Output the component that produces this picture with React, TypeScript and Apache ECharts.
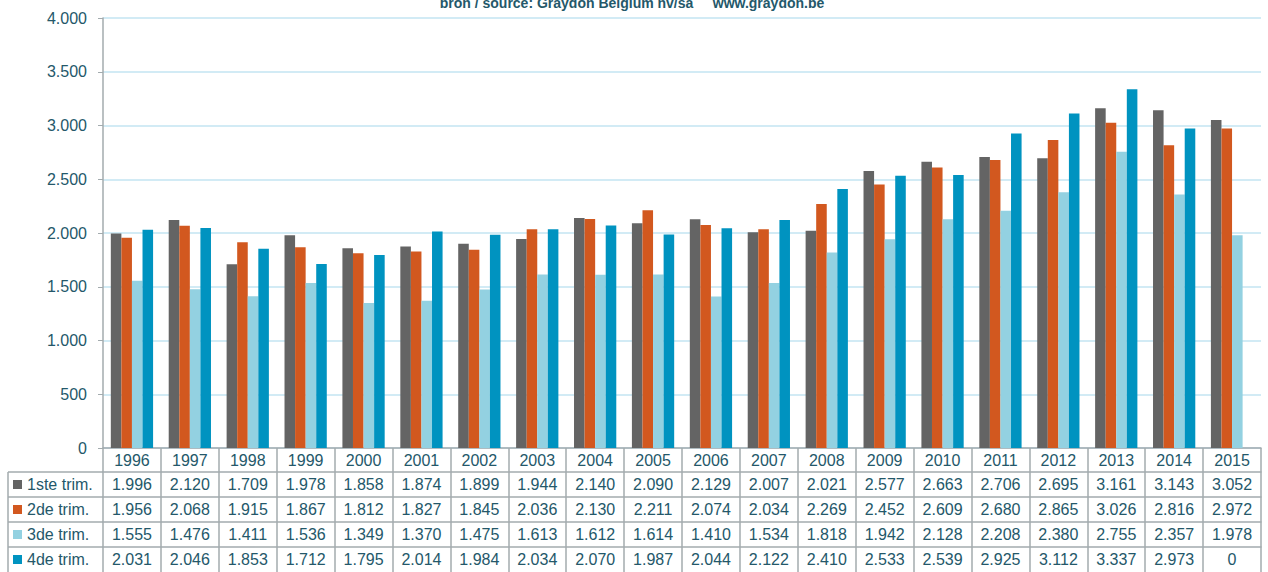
import React, { useEffect, useRef } from "react";
import * as echarts from "echarts";

const years = ["1996","1997","1998","1999","2000","2001","2002","2003","2004","2005","2006","2007","2008","2009","2010","2011","2012","2013","2014","2015"];
const seriesNames = ["1ste trim.", "2de trim.", "3de trim.", "4de trim."];
const q1 = [1996,2120,1709,1978,1858,1874,1899,1944,2140,2090,2129,2007,2021,2577,2663,2706,2695,3161,3143,3052];
const q2 = [1956,2068,1915,1867,1812,1827,1845,2036,2130,2211,2074,2034,2269,2452,2609,2680,2865,3026,2816,2972];
const q3 = [1555,1476,1411,1536,1349,1370,1475,1613,1612,1614,1410,1534,1818,1942,2128,2208,2380,2755,2357,1978];
const q4 = [2031,2046,1853,1712,1795,2014,1984,2034,2070,1987,2044,2122,2410,2533,2539,2925,3112,3337,2973,0];
const colors = ["#646464", "#d2581f", "#93d1e1", "#0093c0"];
const titleText = "bron / source: Graydon Belgium nv/sa     www.graydon.be";

const FONT = "'Liberation Sans', Arial, sans-serif";
const TEXT = "#24586a";
const BORDER = "#a3abae";

function fmt(v: number): string {
  if (v >= 1000) {
    return Math.floor(v / 1000) + "." + String(v % 1000).padStart(3, "0");
  }
  return String(v);
}

export default function App() {
  const ref = useRef<HTMLDivElement>(null);
  useEffect(() => {
    if (!ref.current) return;
    const chart = echarts.init(ref.current, undefined, { renderer: "svg" });
    const rows = [q1, q2, q3, q4];
    const rowTop = 448;
    const rowOffsets = [0, 24, 49, 74, 99];
    const tickLens = [24, 25, 25, 25, 25];

    const xAxes: any[] = rowOffsets.map((off, k) => ({
      type: "category",
      data: years,
      gridIndex: 0,
      position: "bottom",
      offset: off,
      axisLine: { show: true, lineStyle: { color: BORDER, width: 1.5 } },
      axisTick: { show: true, interval: 0, length: tickLens[k], alignWithLabel: false, lineStyle: { color: BORDER, width: 1.5 } },
      axisLabel: {
        interval: 0,
        margin: 4.5,
        fontSize: 16,
        fontFamily: FONT,
        color: TEXT,
        formatter: k === 0 ? undefined : (_v: string, i: number) => fmt(rows[k - 1][i]),
      },
      splitLine: { show: false },
    }));

    const legends = seriesNames.map((name, k) => ({
      data: [name],
      left: 13,
      top: rowTop + rowOffsets[k + 1] + 4.5,
      padding: 0,
      icon: "rect",
      itemWidth: 9,
      itemHeight: 9,
      selectedMode: false,
      textStyle: { fontSize: 16, fontFamily: FONT, color: TEXT },
    }));

    const frame: any[] = [
      { type: "line", shape: { x1: 8, y1: 472, x2: 8, y2: 580 }, style: { stroke: BORDER, lineWidth: 1.5 } },
    ];
    [472, 497, 522, 547].forEach((y) => {
      frame.push({ type: "line", shape: { x1: 8, y1: y, x2: 103, y2: y }, style: { stroke: BORDER, lineWidth: 1.5 } });
    });
    frame.push({
      type: "text",
      x: 632,
      y: 3,
      style: { text: titleText, font: `bold 14px ${FONT}`, fill: TEXT, textAlign: "center", textVerticalAlign: "middle" },
    });

    chart.setOption({
      animation: false,
      grid: { left: 103, right: 7, top: 18, bottom: 124, containLabel: false },
      legend: legends,
      xAxis: xAxes,
      yAxis: {
        type: "value",
        min: 0,
        max: 4000,
        interval: 500,
        axisLine: { show: true, lineStyle: { color: BORDER, width: 1.5 } },
        axisTick: { show: true, length: 5, lineStyle: { color: BORDER, width: 1 } },
        axisLabel: { formatter: (v: number) => fmt(v), fontSize: 16, fontFamily: FONT, color: TEXT, margin: 16 },
        splitLine: { show: true, lineStyle: { color: "#d2ebf5", width: 2 } },
      },
      series: rows.map((data, k) => ({
        name: seriesNames[k],
        type: "bar",
        xAxisIndex: 0,
        data,
        barGap: "0%",
        barCategoryGap: "27%",
        itemStyle: { color: colors[k] },
      })),
      graphic: frame,
    });
    return () => chart.dispose();
  }, []);
  return (
    <div
      ref={ref}
      style={{ position: "fixed", left: 0, top: 0, width: 1268, height: 572, background: "#fff" }}
    />
  );
}
